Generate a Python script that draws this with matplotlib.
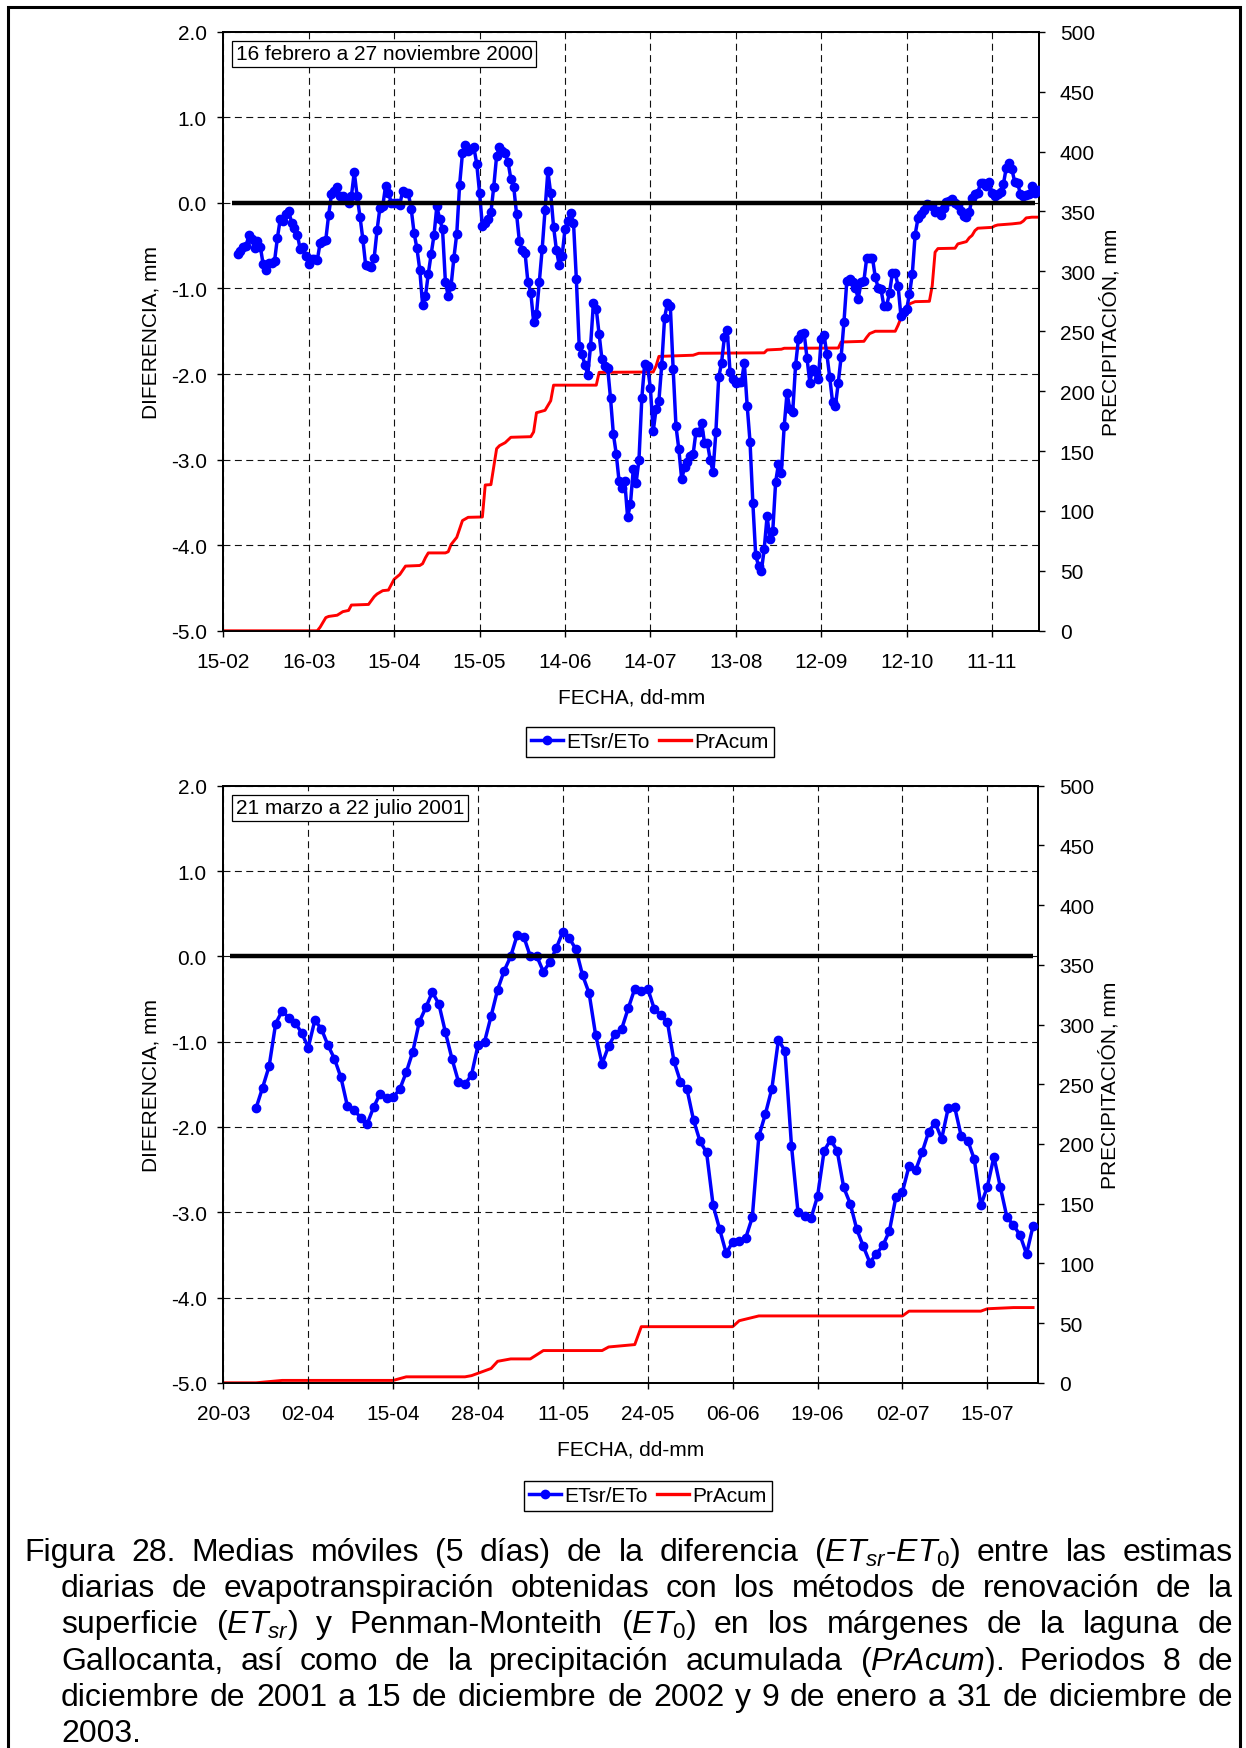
import matplotlib
matplotlib.use('Agg')
import matplotlib.pyplot as plt
from matplotlib.lines import Line2D
from matplotlib.patches import Rectangle
from matplotlib.ticker import FormatStrFormatter
import numpy as np

plt.rcParams.update({
    'font.family': ['Liberation Sans', 'DejaVu Sans'],
    'axes.unicode_minus': False,
    'mathtext.fontset': 'custom',
    'mathtext.rm': 'Liberation Sans',
    'mathtext.it': 'Liberation Sans:italic',
    'mathtext.bf': 'Liberation Sans:bold',
    'mathtext.sf': 'Liberation Sans',
    'lines.scale_dashes': False,
})

# ---------------- data: top chart (16 feb - 27 nov 2000), day 0 = 15-02 ----------------
top_first_day = 5
top_diff = [
    -0.60, -0.56, -0.52, -0.50, -0.38, -0.42, -0.53, -0.44, -0.51, -0.72,   # d5-14
    -0.78, -0.70, -0.70, -0.68, -0.41, -0.19, -0.21, -0.13, -0.10, -0.23,   # d15-24
    -0.29, -0.37, -0.54, -0.51, -0.62, -0.72, -0.66, -0.66, -0.67, -0.47,   # d25-34
    -0.44, -0.43, -0.14, 0.10, 0.14, 0.18, 0.08, 0.08, 0.05, 0.00,          # d35-44
    0.08, 0.36, 0.08, -0.16, -0.42, -0.73, -0.74, -0.75, -0.64, -0.32,      # d45-54
    -0.06, -0.04, 0.20, 0.12, 0.00, 0.00, 0.00, -0.02, 0.14, 0.12,          # d55-64
    0.11, -0.07, -0.35, -0.53, -0.78, -1.19, -1.09, -0.83, -0.60, -0.38,    # d65-74
    -0.04, -0.19, -0.31, -0.92, -1.09, -0.97, -0.64, -0.36, 0.21, 0.58,     # d75-84
    0.68, 0.61, 0.63, 0.65, 0.46, 0.12, -0.27, -0.23, -0.19, -0.11,         # d85-94
    0.19, 0.55, 0.65, 0.61, 0.58, 0.48, 0.28, 0.19, -0.13, -0.45,           # d95-104
    -0.55, -0.59, -0.93, -1.05, -1.39, -1.30, -0.92, -0.54, -0.08, 0.37,    # d105-114
    0.11, -0.28, -0.55, -0.73, -0.62, -0.31, -0.21, -0.12, -0.23, -0.89,    # d115-124
    -1.67, -1.77, -1.89, -2.01, -1.67, -1.17, -1.24, -1.53, -1.83, -1.91,   # d125-134
    -1.93, -2.28, -2.70, -2.93, -3.25, -3.33, -3.25, -3.67, -3.52, -3.11,   # d135-144
    -3.27, -3.00, -2.28, -1.88, -1.91, -2.16, -2.67, -2.41, -2.31, -1.89,   # d145-154
    -1.34, -1.17, -1.20, -1.94, -2.61, -2.88, -3.23, -3.09, -3.03, -2.96,   # d155-164
    -2.94, -2.68, -2.68, -2.57, -2.80, -2.80, -3.00, -3.14, -2.68, -2.04,   # d165-174
    -1.87, -1.57, -1.49, -1.98, -2.06, -2.10, -2.09, -2.09, -1.87, -2.37,   # d175-184
    -2.79, -3.51, -4.12, -4.24, -4.30, -4.04, -3.66, -3.93, -3.83, -3.26,   # d185-194
    -3.05, -3.16, -2.61, -2.22, -2.41, -2.44, -1.90, -1.59, -1.53, -1.52,   # d195-204
    -1.81, -2.10, -1.94, -1.98, -2.06, -1.59, -1.54, -1.77, -2.04, -2.33,   # d205-214
    -2.37, -2.10, -1.80, -1.39, -0.91, -0.89, -0.93, -0.99, -1.12, -0.93,   # d215-224
    -0.91, -0.64, -0.64, -0.64, -0.87, -0.99, -1.01, -1.20, -1.20, -1.05,   # d225-234
    -0.82, -0.82, -0.97, -1.32, -1.28, -1.24, -1.07, -0.83, -0.37, -0.18,   # d235-244
    -0.13, -0.08, -0.01, -0.02, -0.04, -0.11, -0.10, -0.14, -0.06, 0.01,    # d245-254
    0.02, 0.04, 0.00, -0.03, -0.09, -0.15, -0.17, -0.11, 0.06, 0.10,        # d255-264
    0.12, 0.23, 0.23, 0.20, 0.24, 0.12, 0.08, 0.10, 0.13, 0.22,             # d265-274
    0.41, 0.47, 0.39, 0.24, 0.23, 0.10, 0.08, 0.09, 0.10, 0.20,             # d275-284
    0.12, 0.15,                                                             # d285-286
]
top_rain_days = [0, 33, 34, 36, 37, 40, 42, 44, 45, 51, 53, 54, 56, 58, 60, 62, 64,
                 69, 70, 71, 72, 78, 79, 80, 82, 84, 86, 91, 92, 94, 96, 97, 99, 101,
                 108, 109, 110, 113, 114, 115, 116, 131, 132, 151, 152, 153, 165, 167,
                 190, 191, 196, 197, 216, 217, 225, 226, 227, 229, 236, 237, 238, 239,
                 241, 243, 248, 249, 250, 251, 257, 258, 261, 262, 263, 264, 265, 270,
                 271, 272, 277, 280, 281, 282, 284, 286]
top_rain_mm = [0, 0, 3, 11, 12, 13, 16, 17, 21.5, 22, 28.5, 30.7, 33.5, 34, 43, 47, 54,
               54.5, 56, 61, 65, 65, 66, 72, 78, 92, 94.7, 95, 121.7, 122, 152, 154.5, 157, 161.5,
               162, 166, 182, 184, 188, 192, 205, 205, 215.7, 216, 221, 229, 230, 231.6,
               232, 234.4, 235, 235.8, 236, 241, 241.6, 245, 248, 250, 250, 255, 261, 264.5,
               272.8, 274.7, 275, 288, 316, 319, 319.3, 322.9, 324.8, 328, 330, 334, 336, 336.7,
               338, 338.7, 339.6, 340.4, 342, 344.6, 345.2, 345.2]
top_zero_days = [3, 285]
top_zero_vals = [0, 0]
top_xtick_days = [0, 30, 60, 90, 120, 150, 180, 210, 240, 270]
top_xtick_labels = ["15-02", "16-03", "15-04", "15-05", "14-06", "14-07", "13-08",
                    "12-09", "12-10", "11-11"]
top_title = "16 febrero a 27 noviembre 2000"

# ---------------- data: bottom chart (21 mar - 22 jul 2001), day 0 = 20-03 ----------------
bot_first_day = 5
bot_diff = [
    -1.78, -1.54, -1.29, -0.79, -0.64, -0.72, -0.78, -0.90, -1.07, -0.75,   # d5-14
    -0.85, -1.04, -1.20, -1.42, -1.76, -1.80, -1.89, -1.97, -1.77, -1.61,   # d15-24
    -1.66, -1.65, -1.56, -1.36, -1.12, -0.77, -0.60, -0.42, -0.56, -0.89,   # d25-34
    -1.20, -1.47, -1.50, -1.39, -1.04, -1.00, -0.70, -0.39, -0.17, 0.00,    # d35-44
    0.25, 0.23, 0.00, 0.00, -0.18, -0.07, 0.10, 0.29, 0.21, 0.08,           # d45-54
    -0.22, -0.43, -0.92, -1.26, -1.05, -0.91, -0.85, -0.61, -0.38, -0.41,   # d55-64
    -0.38, -0.62, -0.69, -0.77, -1.23, -1.47, -1.56, -1.92, -2.17, -2.30,   # d65-74
    -2.92, -3.20, -3.48, -3.35, -3.34, -3.30, -3.06, -2.11, -1.85, -1.55,   # d75-84
    -0.98, -1.11, -2.22, -3.00, -3.05, -3.07, -2.81, -2.28, -2.15, -2.28,   # d85-94
    -2.71, -2.90, -3.20, -3.40, -3.59, -3.49, -3.39, -3.22, -2.82, -2.76,   # d95-104
    -2.46, -2.51, -2.30, -2.06, -1.95, -2.14, -1.78, -1.77, -2.11, -2.16,   # d105-114
    -2.38, -2.92, -2.70, -2.35, -2.71, -3.06, -3.15, -3.27, -3.49, -3.16,   # d115-124
]
bot_rain_days = [0, 5, 7, 9, 26, 28, 37, 38, 39, 41, 42, 44, 47, 49, 58, 59, 63, 64,
                 78, 79, 82, 104, 105, 116, 117, 121, 124]
bot_rain_mm = [0, 0, 1, 2, 2, 5, 5, 6, 8, 12, 18, 20, 20, 27, 27, 30, 32, 47,
               47, 52, 56, 56, 60, 60, 62, 63, 63]
bot_zero_days = [1, 124]
bot_zero_vals = [0, 0]
bot_xtick_days = [0, 13, 26, 39, 52, 65, 78, 91, 104, 117]
bot_xtick_labels = ["20-03", "02-04", "15-04", "28-04", "11-05", "24-05", "06-06",
                    "19-06", "02-07", "15-07"]
bot_title = "21 marzo a 22 julio 2001"

series_names = ["ETsr/ETo", "PrAcum"]
xlabel_text = "FECHA, dd-mm"
ylabel_left = "DIFERENCIA, mm"
ylabel_right = "PRECIPITACIÓN, mm"

caption_lines = [
    ["Figura", "28.", "Medias", "móviles", "(5", "días)", "de", "la", "diferencia",
     r"($\mathit{ET}_{\mathit{sr}}$-$\mathit{ET}_{\mathit{0}}$)", "entre", "las", "estimas"],
    "diarias de evapotranspiración obtenidas con los métodos de renovación de la".split(),
    ["superficie", r"($\mathit{ET}_{\mathit{sr}}$)", "y", "Penman-Monteith",
     r"($\mathit{ET}_{\mathit{0}}$)", "en", "los", "márgenes", "de", "la", "laguna", "de"],
    ["Gallocanta,", "así", "como", "de", "la", "precipitación", "acumulada",
     r"($\mathit{PrAcum}$).", "Periodos", "8", "de"],
    "diciembre de 2001 a 15 de diciembre de 2002 y 9 de enero a 31 de diciembre de".split(),
    ["2003."],
]

# ---------------- figure ----------------
W, H = 1246, 1749
fig = plt.figure(figsize=(W / 100, H / 100), dpi=100)
fig.patch.set_facecolor('white')

def px_rect(x0, y0, x1, y1):
    return [x0 / W, 1 - y1 / H, (x1 - x0) / W, (y1 - y0) / H]

FS = 15
BLUE = '#0000FF'
RED = '#FF0000'


def make_chart(rect, days0, diff, rain_days, rain_mm, zero_days, zero_vals,
               xt, xtl, xmax, title, legend_center):
    ax = fig.add_axes(rect)
    ax2 = ax.twinx()
    days = np.arange(days0, days0 + len(diff))
    ax.set_xlim(0, xmax)
    ax.set_ylim(-5, 2)
    ax2.set_ylim(0, 500)
    ax.set_yticks(np.arange(-5, 2.01, 1))
    ax.yaxis.set_major_formatter(FormatStrFormatter('%.1f'))
    ax2.set_yticks(np.arange(0, 501, 50))
    ax.set_xticks(xt)
    ax.set_xticklabels(xtl)
    ax.grid(True, color='#111111', linestyle=(0, (5, 3.2)), linewidth=0.8)
    ax.set_axisbelow(True)
    for a in (ax, ax2):
        for s in a.spines.values():
            s.set_linewidth(1.3)
            s.set_color('black')
    ax.tick_params(axis='both', direction='out', length=4, width=1, labelsize=FS)
    ax.tick_params(axis='x', pad=11)
    ax.tick_params(axis='y', pad=8)
    ax2.tick_params(axis='y', direction='out', length=4, width=1, labelsize=FS, pad=11)

    ax2.plot(rain_days, rain_mm, color=RED, lw=2.1, solid_joinstyle='round', zorder=3)
    ax.plot(days, diff, color=BLUE, lw=2.5, marker='o', ms=6, zorder=3)
    ax.plot(zero_days, zero_vals, color='black', lw=3.2, zorder=4, solid_capstyle='butt')
    ax.set_zorder(ax2.get_zorder() + 1)
    ax.patch.set_visible(False)

    ax.set_xlabel(xlabel_text, fontsize=FS, va='center')
    ax.xaxis.set_label_coords(0.5, -0.111)
    ax.set_ylabel(ylabel_left, fontsize=FS, va='center')
    ax.yaxis.set_label_coords(-0.0891, 0.5)
    ax2.set_ylabel(ylabel_right, fontsize=FS, va='center')
    ax2.yaxis.set_label_coords(1.087, 0.5)

    ax.text(0.0155, 0.9628, title, transform=ax.transAxes, fontsize=FS, va='center',
            ha='left', zorder=6,
            bbox=dict(boxstyle='square,pad=0.17', fc='white', ec='black', lw=0.9))

    handles = [Line2D([], [], color=BLUE, lw=2.5, marker='o', ms=6),
               Line2D([], [], color=RED, lw=2.4)]
    leg = fig.legend(handles, series_names, loc='center',
                     bbox_to_anchor=(legend_center[0] / W, 1 - legend_center[1] / H),
                     ncol=2, frameon=True, fancybox=False, edgecolor='black',
                     framealpha=1, fontsize=FS, handlelength=1.55, handletextpad=0.15,
                     columnspacing=0.45, borderpad=0.25, borderaxespad=0)
    leg.get_frame().set_linewidth(1.0)
    return ax, ax2


make_chart(px_rect(223.3, 32.7, 1039, 631.8), top_first_day, top_diff,
           top_rain_days, top_rain_mm, top_zero_days, top_zero_vals,
           top_xtick_days, top_xtick_labels, 286.5, top_title, (650, 743))
make_chart(px_rect(223.4, 786.7, 1038.3, 1383.8), bot_first_day, bot_diff,
           bot_rain_days, bot_rain_mm, bot_zero_days, bot_zero_vals,
           bot_xtick_days, bot_xtick_labels, 124.8, bot_title, (648, 1497))

# ---------------- caption (justified) ----------------
CFS = 23
renderer = fig.canvas.get_renderer()
line_left = [24.5, 61, 61, 61, 61, 61]
right_edge = 1233
baseline0 = 1561
line_step = 36.2
for i, words in enumerate(caption_lines):
    y = 1 - (baseline0 + i * line_step) / H
    texts = [fig.text(0, y, w, fontsize=CFS, va='baseline', ha='left') for w in words]
    widths = [t.get_window_extent(renderer).width for t in texts]
    space = fig.text(0, 0, 'a a', fontsize=CFS).get_window_extent(renderer).width - \
        fig.text(0, 0, 'aa', fontsize=CFS).get_window_extent(renderer).width
    fig.texts = fig.texts[:-2]
    if i < len(caption_lines) - 1 and len(words) > 1:
        gap = (right_edge - line_left[i] - sum(widths)) / (len(words) - 1)
    else:
        gap = space
    x = line_left[i]
    for t, wdt in zip(texts, widths):
        t.set_x(x / W)
        x += wdt + gap

# page border (bottom edge lies below the visible page, as in the reference)
fig.patches.append(Rectangle((8 / W, -0.01), (1240 - 8) / W, 1 - 8 / H + 0.01,
                             transform=fig.transFigure, fill=False, ec='black', lw=2.2))

fig.savefig('out.png', dpi=100)
